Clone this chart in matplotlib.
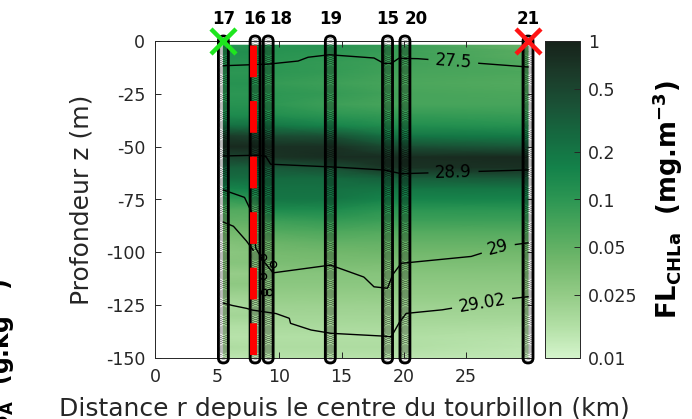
import numpy as np
import matplotlib
matplotlib.use("Agg")
import matplotlib.pyplot as plt
from matplotlib.colors import LinearSegmentedColormap, LogNorm
from matplotlib.patches import FancyBboxPatch

plt.rcParams['font.family'] = ['DejaVu Sans']
plt.rcParams['axes.unicode_minus'] = False

# stations, rangées par distance au centre du tourbillon
stations = ["17", "16", "18", "19", "15", "20", "21"]
r_station = [5.5, 8.05, 9.1, 14.1, 18.7, 20.1, 30.0]
r_vmax = 7.85  # rayon de vitesse maximale (km)

# profils de fluorescence (mg.m-3) aux profondeurs suivantes (m)
depth = [2, 5, 10, 15, 20, 25, 30, 35, 40, 45, 50, 55, 60, 65, 70, 75,
         80, 85, 90, 95, 100, 105, 110, 115, 120, 125, 130, 135, 140, 145, 150]
fl_17 = [0.11, 0.12, 0.11, 0.10, 0.11, 0.10, 0.11, 0.13, 0.22, 0.60, 0.85, 0.50, 0.30, 0.24, 0.15, 0.09,
         0.060, 0.050, 0.040, 0.032, 0.028, 0.030, 0.024, 0.027, 0.022, 0.018, 0.020, 0.016, 0.015, 0.017, 0.014]
fl_16 = [0.11, 0.12, 0.11, 0.10, 0.11, 0.10, 0.11, 0.13, 0.22, 0.55, 0.85, 0.55, 0.30, 0.24, 0.16, 0.10,
         0.060, 0.050, 0.040, 0.035, 0.030, 0.030, 0.025, 0.027, 0.022, 0.019, 0.020, 0.016, 0.015, 0.016, 0.014]
fl_18 = [0.11, 0.11, 0.10, 0.10, 0.09, 0.10, 0.10, 0.12, 0.20, 0.45, 0.75, 0.70, 0.35, 0.25, 0.22, 0.20,
         0.130, 0.080, 0.060, 0.045, 0.038, 0.035, 0.030, 0.028, 0.025, 0.022, 0.020, 0.018, 0.016, 0.017, 0.015]
fl_19 = [0.11, 0.10, 0.09, 0.09, 0.08, 0.09, 0.08, 0.10, 0.15, 0.40, 0.75, 0.80, 0.40, 0.25, 0.22, 0.20,
         0.130, 0.090, 0.065, 0.050, 0.040, 0.036, 0.030, 0.028, 0.025, 0.022, 0.020, 0.018, 0.016, 0.017, 0.015]
fl_15 = [0.09, 0.085, 0.08, 0.075, 0.07, 0.075, 0.07, 0.09, 0.12, 0.22, 0.45, 0.80, 0.70, 0.30, 0.20, 0.15,
         0.100, 0.080, 0.060, 0.048, 0.042, 0.035, 0.030, 0.028, 0.025, 0.022, 0.020, 0.018, 0.016, 0.017, 0.015]
fl_20 = [0.085, 0.08, 0.075, 0.07, 0.065, 0.07, 0.07, 0.09, 0.12, 0.20, 0.42, 0.80, 0.72, 0.32, 0.20, 0.15,
         0.100, 0.080, 0.060, 0.048, 0.040, 0.035, 0.030, 0.027, 0.025, 0.022, 0.020, 0.018, 0.016, 0.016, 0.014]
fl_21 = [0.045, 0.055, 0.06, 0.065, 0.06, 0.065, 0.07, 0.085, 0.11, 0.18, 0.35, 0.85, 0.75, 0.35, 0.20, 0.15,
         0.100, 0.080, 0.060, 0.048, 0.040, 0.035, 0.030, 0.027, 0.025, 0.022, 0.020, 0.017, 0.015, 0.014, 0.013]

# isopycnes : distance (km) et profondeur (m)
iso_275_r = [5.5, 9.0, 11.5, 12.3, 14.0, 17.6, 18.4, 19.0, 19.6, 21.0, 30.0]
iso_275_z = [-11.7, -11.0, -9.5, -7.7, -6.5, -8.0, -10.6, -10.6, -8.2, -8.3, -12.3]
iso_289_r = [5.5, 8.2, 8.9, 9.3, 14.0, 18.4, 19.8, 30.0]
iso_289_z = [-54.4, -54.0, -54.5, -58.3, -59.5, -61.0, -62.8, -61.0]
iso_29_r = [5.5, 7.2, 7.8, 8.1, 8.7, 9.5, 14.1, 16.0, 16.8, 17.6, 18.7, 19.1, 19.8, 25.4, 28.1, 30.0]
iso_29_z = [-70.5, -74.0, -81.4, -98.0, -104.0, -109.7, -106.0, -110.0, -111.7, -116.3, -117.0,
            -110.7, -105.2, -102.0, -97.0, -95.5]
iso_29b_r = [5.5, 6.3, 7.3, 7.9]
iso_29b_z = [-85.7, -87.6, -94.2, -99.0]
iso_2902_r = [5.5, 6.1, 7.3, 7.8, 9.7, 10.8, 10.9, 12.5, 14.1, 18.4, 19.0, 19.6, 20.2, 23.0, 28.2, 30.0]
iso_2902_z = [-124.0, -125.0, -126.4, -127.3, -128.9, -131.2, -133.6, -136.7, -138.3, -139.6, -140.0,
              -133.6, -128.9, -127.3, -122.2, -121.0]
# petites isolignes fermées près de r = 9 km
loop_r = [8.65, 9.45, 8.65, 8.75, 9.2]
loop_z = [-102.4, -105.7, -111.0, -119.0, -119.0]

cb_ticks = [0.01, 0.025, 0.05, 0.1, 0.2, 0.5, 1]
cb_ticklabels = ["0.01", "0.025", "0.05", "0.1", "0.2", "0.5", "1"]

txt = '#262626'
algae = LinearSegmentedColormap.from_list('algae', [
    '#d4f4cb', '#b2dfa5', '#93cb86', '#73b86c', '#4fa85d', '#2c9653',
    '#14824a', '#156a40', '#1a5136', '#1b3a29', '#16221a'])

fig = plt.figure(figsize=(6.92, 4.19), dpi=100)
ax = fig.add_axes([155 / 692, 61 / 419, 378 / 692, 317 / 419])
ax.set_xlim(0, 30.4)
ax.set_ylim(-150, 0)

FL = np.array([fl_17, fl_16, fl_18, fl_19, fl_15, fl_20, fl_21]).T
Z = -np.array(depth, dtype=float)
pm = ax.pcolormesh(r_station, Z, FL, shading='gouraud', cmap=algae,
                   norm=LogNorm(vmin=0.01, vmax=1), zorder=1)

renderer = fig.canvas.get_renderer()


def isoline(r, z, label=None, r_lab=None):
    rr = np.linspace(r[0], r[-1], 800)
    zz = np.interp(rr, r, z)
    if label is not None:
        z_lab = np.interp(r_lab, r, z)
        a = ax.transData.transform((r_lab - 1.5, np.interp(r_lab - 1.5, r, z)))
        b = ax.transData.transform((r_lab + 1.5, np.interp(r_lab + 1.5, r, z)))
        ang = np.degrees(np.arctan2(b[1] - a[1], b[0] - a[0]))
        t = ax.text(r_lab, z_lab, label, fontsize=12, color='k', ha='center', va='center',
                    rotation_mode='anchor', zorder=4)
        w = t.get_window_extent(renderer).width
        t.set_rotation(ang)
        c = ax.transData.transform((r_lab, z_lab))
        p = ax.transData.transform(np.column_stack([rr, zz]))
        gap = np.hypot(p[:, 0] - c[0], p[:, 1] - c[1]) < w / 2 + 7
        zz[gap] = np.nan
    ax.plot(rr, zz, color='k', lw=1.0, zorder=3)


isoline(iso_275_r, iso_275_z, "27.5", 24.0)
isoline(iso_289_r, iso_289_z, "28.9", 24.0)
isoline(iso_29_r, iso_29_z, "29", 27.6)
isoline(iso_29b_r, iso_29b_z)
isoline(iso_2902_r, iso_2902_z, "29.02", 26.3)
ax.plot(loop_r, loop_z, ls='none', marker='o', ms=4.5, mfc='none', mec='k', mew=0.9, zorder=3)

# profils CTD : points de mesure + contour arrondi du profil
o = ax.transData.transform((0, 0))
px_km = ax.transData.transform((1, 0))[0] - o[0]
px_m = ax.transData.transform((0, 1))[1] - o[1]
half_w = 5.0 / px_km          # demi-largeur du profil, 5 px
cap = half_w * px_km / px_m   # même rayon en mètres
ctd_z = -np.arange(0, 151, 1.0)
for r in r_station:
    ax.plot(np.full(ctd_z.size, r), ctd_z, ls='none', marker='o', ms=7.0, mfc='none',
            mec=(0, 0, 0, 0.45), mew=0.4, clip_on=False, zorder=5)
    ax.add_patch(FancyBboxPatch((r - half_w, -150 - cap), 2 * half_w, 150 + 2 * cap,
                                boxstyle=f"round,pad=0,rounding_size={half_w}",
                                mutation_aspect=px_km / px_m, fc='none', ec='k',
                                lw=2.0, clip_on=False, zorder=5))

ax.plot([r_vmax, r_vmax], [-depth[0], -depth[-1]], color='red', lw=5.0,
        ls=(0, (4.57, 3.43)), zorder=6)

ax.plot(r_station[0], 0, marker='x', color='#1ee61e', ms=18, mew=3.2, clip_on=False, zorder=7)
ax.plot(r_station[-1], 0, marker='x', color='#ff1414', ms=18, mew=3.2, clip_on=False, zorder=7)

label_dx = [0, 0, 9, 0, 0, 8, 0]
for name, r, dx in zip(stations, r_station, label_dx):
    ax.annotate(name, xy=(r, 0), xytext=(dx, 16), textcoords='offset points',
                ha='center', va='center', fontsize=12, fontweight='bold',
                color='k', annotation_clip=False)

ax.set_xticks([0, 5, 10, 15, 20, 25])
ax.set_yticks([0, -25, -50, -75, -100, -125, -150])
ax.tick_params(direction='in', length=4, width=0.7, top=True, right=True,
               labelsize=12.5, colors=txt, pad=7)
for s in ax.spines.values():
    s.set_color(txt)
    s.set_linewidth(0.7)
ax.set_xlabel('Distance r depuis le centre du tourbillon (km)', fontsize=18, color=txt, labelpad=8)
ax.set_ylabel('Profondeur z (m)', fontsize=18, color=txt, labelpad=9)

cax = fig.add_axes([545 / 692, 61 / 419, 35 / 692, 317 / 419])
cb = fig.colorbar(pm, cax=cax, ticks=cb_ticks)
cb.ax.minorticks_off()
cb.ax.set_yticklabels(cb_ticklabels)
cb.ax.tick_params(direction='in', length=4, width=0.7, labelsize=12.5, colors=txt, pad=6)
cb.outline.set_edgecolor(txt)
cb.outline.set_linewidth(0.7)
cb.set_label(r'FL$_\mathbf{CHLa}$  (mg.m$^\mathbf{-3}$)', fontsize=18.5, fontweight='bold',
             color='k', labelpad=9)

# libellé de la barre de couleur du panneau voisin
fig.text(11 / 692, 141 / 419, r'S$_\mathbf{A}$  (g.kg$^\mathbf{-1}$)', rotation=90,
         rotation_mode='anchor', ha='right', va='baseline', fontsize=17,
         fontweight='bold', color='k')

fig.savefig('out.png', dpi=100)
